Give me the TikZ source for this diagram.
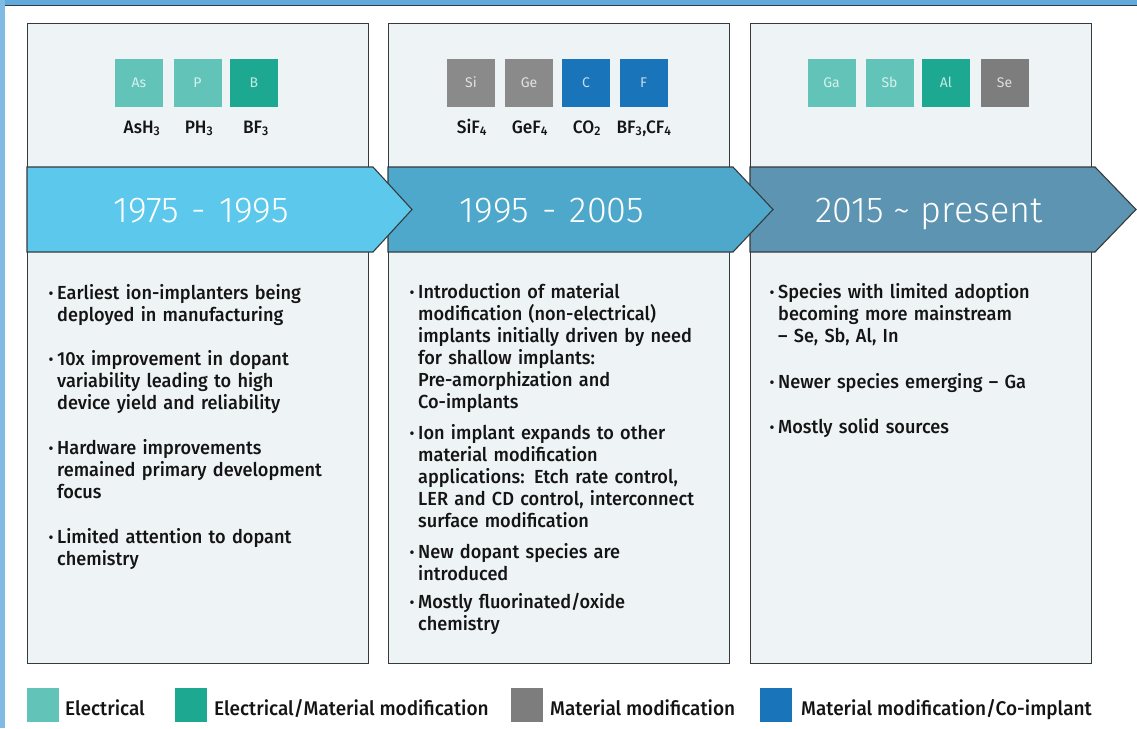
\documentclass[tikz,border=0pt]{standalone}
\usepackage{fontspec}
\setmainfont{Fira Sans}
\newfontfamily\yearfont{Fira Sans Light}
\newfontfamily\medfont[FakeStretch=0.96]{Fira Sans Medium}
\definecolor{frameblue}{RGB}{96,170,222}
\definecolor{panelfill}{RGB}{238,243,246}
\definecolor{panelline}{RGB}{55,58,60}
\definecolor{banA}{RGB}{92,200,236}
\definecolor{banB}{RGB}{78,168,203}
\definecolor{banC}{RGB}{92,148,177}
\definecolor{tealL}{RGB}{98,196,184}
\definecolor{tealD}{RGB}{28,168,145}
\definecolor{greyM}{RGB}{138,138,138}
\definecolor{greyD}{RGB}{125,125,125}
\definecolor{blueM}{RGB}{26,116,186}
\definecolor{txt}{RGB}{20,20,20}
\newcommand\bul{\leavevmode\llap{\textbf{·}\hspace{4pt}}}
\tikzset{
  panel/.style={draw=panelline, line width=1.4pt, fill=panelfill, anchor=north west, minimum width=341pt, minimum height=640pt, inner sep=0pt},
  banner/.style={draw=panelline, line width=1.1pt},
  yeartxt/.style={text=white, font=\yearfont\fontsize{36}{36}\selectfont, anchor=base, inner sep=0pt},
  elem/.style={minimum width=48pt, minimum height=48pt, inner sep=0pt, text=white, text opacity=0.75, font=\fontsize{14}{14}\selectfont},
  elabel/.style={text=txt, font=\medfont\fontsize{18}{18}\selectfont, anchor=base, inner sep=0pt},
  bullettxt/.style={text=txt, anchor=base west, inner sep=0pt, text width=330pt, align=left, font=\medfont\fontsize{18.9}{22}\selectfont},
  legsq/.style={minimum width=32pt, minimum height=34pt, inner sep=0pt},
  legtxt/.style={text=txt, anchor=base west, inner sep=0pt, font=\medfont\fontsize{19.8}{20}\selectfont}
}
\begin{document}
\begin{tikzpicture}[x=1pt, y=-1pt]
\useasboundingbox (0,0) rectangle (1137,728);
\fill[white] (0,0) rectangle (1137,728);
\fill[frameblue] (0,0) rectangle (1137,5);
\fill[frameblue!80!white] (0,0) rectangle (5,728);
\draw[panelline, line width=0.8pt] (5,5.4) -- (1137,5.4);

% panels
\node[panel] (p1) at (27,23) {};
\node[panel] (p2) at (388,23) {};
\node[panel] (p3) at (750,23) {};

% banners
\draw[banner, fill=banC] (750,167) -- (1095,167) -- (1136,209.5) -- (1095,252) -- (750,252) -- cycle;
\draw[banner, fill=banB] (388,167) -- (733,167) -- (773,209.5) -- (733,252) -- (388,252) -- cycle;
\draw[banner, fill=banA] (27,167) -- (373,167) -- (412,209.5) -- (373,252) -- (27,252) -- cycle;
\node[yeartxt] (y1) at (201,222) {1975\hspace{3pt} - \hspace{3pt}1995};
\node[yeartxt] (y2) at (552,222) {1995\hspace{3pt} - \hspace{3pt}2005};
\node[yeartxt] (y3) at (929,222) {2015 \textasciitilde{} present};

% element squares
\node[elem, fill=tealL] (eAs) at (139,82.5) {As};
\node[elem, fill=tealL] (eP) at (197.5,82.5) {P};
\node[elem, fill=tealD] (eB) at (254,82.5) {B};
\node[elabel] (lAs) at (142,133) {AsH\textsubscript{3}};
\node[elabel] (lP) at (199,133) {PH\textsubscript{3}};
\node[elabel] (lB) at (256,133) {BF\textsubscript{3}};

\node[elem, fill=greyM] (eSi) at (471,82.5) {Si};
\node[elem, fill=greyM] (eGe) at (529,82.5) {Ge};
\node[elem, fill=blueM] (eC) at (586,82.5) {C};
\node[elem, fill=blueM] (eF) at (643.5,82.5) {F};
\node[elabel] (lSi) at (472,133) {SiF\textsubscript{4}};
\node[elabel] (lGe) at (530,133) {GeF\textsubscript{4}};
\node[elabel] (lC) at (587,133) {CO\textsubscript{2}};
\node[elabel] (lF) at (644,133) {BF\textsubscript{3},CF\textsubscript{4}};

\node[elem, fill=tealL] (eGa) at (831.5,82.5) {Ga};
\node[elem, fill=tealL] (eSb) at (889.5,82.5) {Sb};
\node[elem, fill=tealD] (eAl) at (946,82.5) {Al};
\node[elem, fill=greyD] (eSe) at (1004.5,82.5) {Se};

% bullets panel 1
\node[bullettxt] (t11) at (57,299) {\bul Earliest ion-implanters being\\deployed in manufacturing};
\node[bullettxt] (t12) at (57,365) {\bul 10x improvement in dopant\\variability leading to high\\device yield and reliability};
\node[bullettxt] (t13) at (57,454) {\bul Hardware improvements\\remained primary development\\focus};
\node[bullettxt] (t14) at (57,543) {\bul Limited attention to dopant\\chemistry};

% bullets panel 2
\node[bullettxt] (t21) at (418,298) {\bul Introduction of material\\modification (non-electrical)\\implants initially driven by need\\for shallow implants:\\Pre-amorphization and\\Co-implants};
\node[bullettxt] (t22) at (418,439) {\bul Ion implant expands to other\\material modification\\applications: Etch rate control,\\LER and CD control, interconnect\\surface modification};
\node[bullettxt] (t23) at (418,558) {\bul New dopant species are\\introduced};
\node[bullettxt] (t24) at (418,608) {\bul Mostly fluorinated/oxide\\chemistry};

% bullets panel 3
\node[bullettxt] (t31) at (778,298) {\bul Species with limited adoption\\becoming more mainstream\\– Se, Sb, Al, In};
\node[bullettxt] (t32) at (778,388) {\bul Newer species emerging – Ga};
\node[bullettxt] (t33) at (778,433) {\bul Mostly solid sources};

% legend
\node[legsq, fill=tealL] (k1) at (43,705) {};
\node[legtxt] (k1t) at (65,715) {Electrical};
\node[legsq, fill=tealD] (k2) at (190.5,705) {};
\node[legtxt] (k2t) at (214,715) {Electrical/Material modification};
\node[legsq, fill=greyD] (k3) at (527,705) {};
\node[legtxt] (k3t) at (550,715) {Material modification};
\node[legsq, fill=blueM] (k4) at (776,705) {};
\node[legtxt] (k4t) at (801,715) {Material modification/Co-implant};
\end{tikzpicture}
\end{document}
